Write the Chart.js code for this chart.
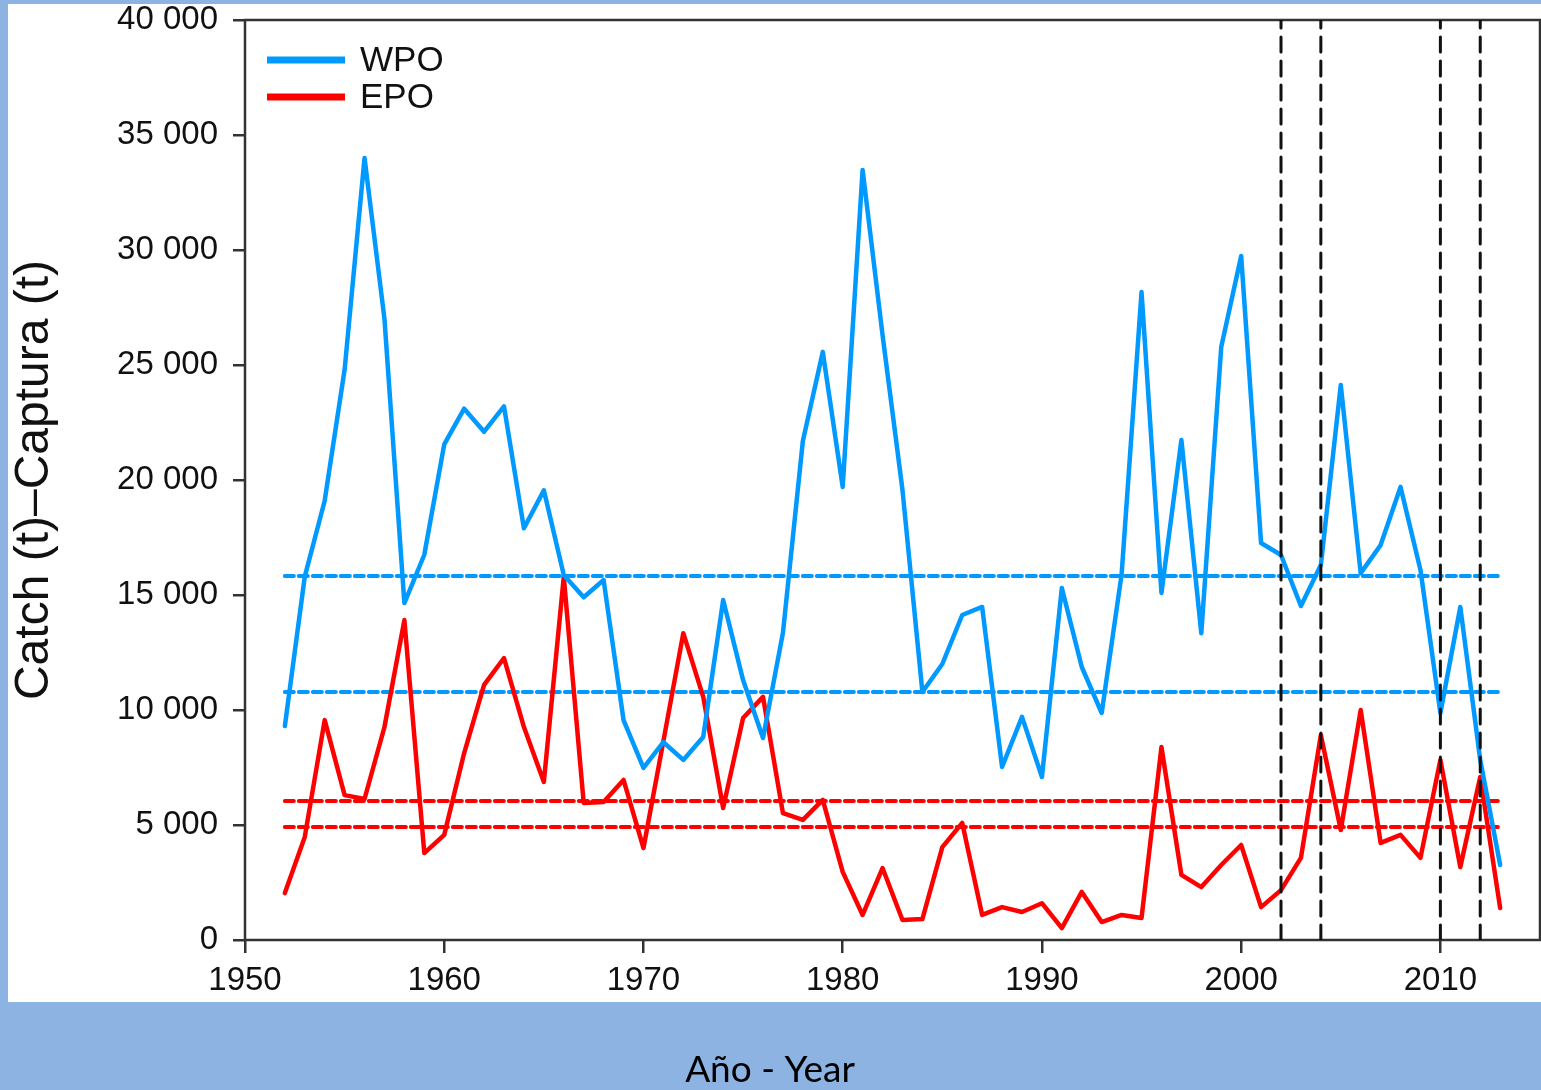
<!DOCTYPE html>
<html>
<head>
<meta charset="utf-8">
<script src="https://cdn.jsdelivr.net/npm/chart.js@4.4.1/dist/chart.umd.min.js"></script>
<style>
  html, body { margin: 0; padding: 0; background: #8db3e2; }
  #chart { display: block; }
</style>
</head>
<body>
<canvas id="chart" width="1541" height="1090"></canvas>
<script>
const years = [
  1952, 1953, 1954, 1955, 1956, 1957, 1958, 1959, 1960, 1961,
  1962, 1963, 1964, 1965, 1966, 1967, 1968, 1969, 1970, 1971,
  1972, 1973, 1974, 1975, 1976, 1977, 1978, 1979, 1980, 1981,
  1982, 1983, 1984, 1985, 1986, 1987, 1988, 1989, 1990, 1991,
  1992, 1993, 1994, 1995, 1996, 1997, 1998, 1999, 2000, 2001,
  2002, 2003, 2004, 2005, 2006, 2007, 2008, 2009, 2010, 2011,
  2012, 2013
]

const wpo = [
  9300, 15800, 19100, 24800, 34000, 27000, 14650, 16750, 21550, 23100,
  22100, 23200, 17900, 19550, 15870, 14900, 15650, 9560, 7480, 8600,
  7830, 8830, 14780, 11300, 8780, 13350, 21700, 25570, 19700, 33480,
  26300, 19570, 10780, 12000, 14130, 14480, 7520, 9700, 7090, 15300,
  11870, 9870, 15900, 28170, 15090, 21740, 13340, 25780, 29740, 17260,
  16740, 14520, 16300, 24130, 15950, 17170, 19700, 16090, 9870, 14480,
  7830, 3260
]

const epo = [
  2040, 4480, 9560, 6300, 6130, 9260, 13910, 3780, 4570, 8130,
  11090, 12260, 9260, 6870, 15780, 5960, 6000, 6960, 4000, 8650,
  13340, 10570, 5740, 9650, 10570, 5520, 5220, 6090, 2960, 1090,
  3130, 870, 910, 4040, 5090, 1090, 1430, 1220, 1600, 520,
  2090, 780, 1090, 960, 8390, 2830, 2300, 3260, 4130, 1430,
  2170, 3570, 8910, 4780, 10000, 4220, 4570, 3570, 7830, 3170,
  7090, 1390
]

// reference levels (dashed horizontal lines) and marked years (dashed verticals)
const wpoRefs = [15830, 10780]
const epoRefs = [6040, 4910]
const markYears = [2002, 2004, 2010, 2012]

const xTicks = [1950, 1960, 1970, 1980, 1990, 2000, 2010]
const yTicks = [0, 5000, 10000, 15000, 20000, 25000, 30000, 35000, 40000]

const BLUE = "#0099ff"
const RED = "#ff0000"
const AXIS = "#333333"
const FONT = "'Liberation Sans', Arial, sans-serif"

const series = (vals) => years.map((yr, i) => ({ x: yr, y: vals[i] }))
const hline = (v) => [{ x: years[0], y: v }, { x: years[years.length - 1], y: v }]
const spaced = (v) => String(v).replace(/\B(?=(\d{3})+(?!\d))/g, " ")

const datasets = [
  { label: "WPO", data: series(wpo), borderColor: BLUE, borderWidth: 4.5, order: 1, legend: true },
  { label: "EPO", data: series(epo), borderColor: RED, borderWidth: 4.5, order: 1, legend: true }
]
wpoRefs.forEach((v) => datasets.push({ data: hline(v), borderColor: BLUE, borderWidth: 4, borderDash: [9, 5], order: 2 }))
epoRefs.forEach((v) => datasets.push({ data: hline(v), borderColor: RED, borderWidth: 4, borderDash: [9, 5], order: 2 }))
markYears.forEach((yr) => datasets.push({
  data: [{ x: yr, y: 0 }, { x: yr, y: 40000 }],
  borderColor: "#111111", borderWidth: 3, borderDash: [15, 9], order: 0
}))

// white panel behind the figure, and the box round the plot
const panel = {
  id: "panel",
  beforeDraw(chart) {
    const ctx = chart.ctx
    ctx.save()
    ctx.fillStyle = "#ffffff"
    ctx.fillRect(8, 4, 1533, 998)
    ctx.restore()
  },
  beforeDatasetsDraw(chart) {
    const { ctx, chartArea: a } = chart
    ctx.save()
    ctx.strokeStyle = AXIS
    ctx.lineWidth = 2.5
    ctx.strokeRect(a.left, a.top, a.right - a.left, a.bottom - a.top)
    ctx.restore()
  }
}

// legend sits inside the plot, top left
const insideLegend = {
  id: "insideLegend",
  afterDraw(chart) {
    const ctx = chart.ctx
    ctx.save()
    ctx.font = "35px " + FONT
    ctx.textBaseline = "middle"
    chart.data.datasets.filter((d) => d.legend).forEach((d, i) => {
      const y = 60 + i * 37
      ctx.strokeStyle = d.borderColor
      ctx.lineWidth = 7
      ctx.beginPath()
      ctx.moveTo(267, y)
      ctx.lineTo(345, y)
      ctx.stroke()
      ctx.fillStyle = "#111111"
      ctx.fillText(d.label, 360, y + 1)
    })
    ctx.restore()
  }
}

new Chart(document.getElementById("chart"), {
  type: "line",
  data: { datasets },
  options: {
    responsive: false,
    animation: false,
    events: [],
    layout: { padding: { left: 0, right: 1, top: 20, bottom: 0 } },
    elements: {
      point: { radius: 0 },
      line: { tension: 0, fill: false, borderJoinStyle: "round", borderCapStyle: "round" }
    },
    scales: {
      x: {
        type: "linear",
        min: 1950,
        max: 2015,
        afterBuildTicks: (scale) => { scale.ticks = xTicks.map((v) => ({ value: v })) },
        afterFit: (scale) => { scale.height = 112 },
        border: { display: false },
        grid: { drawOnChartArea: false, drawTicks: true, tickLength: 13, color: AXIS, lineWidth: 2.5 },
        ticks: { color: "#111111", font: { family: FONT, size: 33 }, padding: 8, maxRotation: 0, callback: (v) => String(v) }
      },
      y: {
        min: 0,
        max: 40000,
        afterBuildTicks: (scale) => { scale.ticks = yTicks.map((v) => ({ value: v })) },
        afterFit: (scale) => {
          scale.width = 245
          scale.paddingTop = 0
          scale.paddingBottom = 0
        },
        border: { display: false },
        grid: { drawOnChartArea: false, drawTicks: true, tickLength: 12, color: AXIS, lineWidth: 2.5 },
        ticks: { color: "#111111", font: { family: FONT, size: 33 }, padding: 15, callback: (v) => spaced(v) },
        title: {
          display: true,
          text: "Catch (t)–Captura (t)",
          color: "#111111",
          font: { family: FONT, size: 48, lineHeight: 1 },
          padding: { top: 11, bottom: 0 }
        }
      }
    },
    plugins: {
      legend: { display: false },
      tooltip: { enabled: false },
      title: {
        display: true,
        position: "bottom",
        text: "Año - Year",
        color: "#000000",
        font: { family: "Lato, 'Open Sans', sans-serif", size: 37, weight: "normal", lineHeight: 1 },
        padding: { top: 0, bottom: 1 }
      }
    }
  },
  plugins: [panel, insideLegend]
})
</script>
</body>
</html>
